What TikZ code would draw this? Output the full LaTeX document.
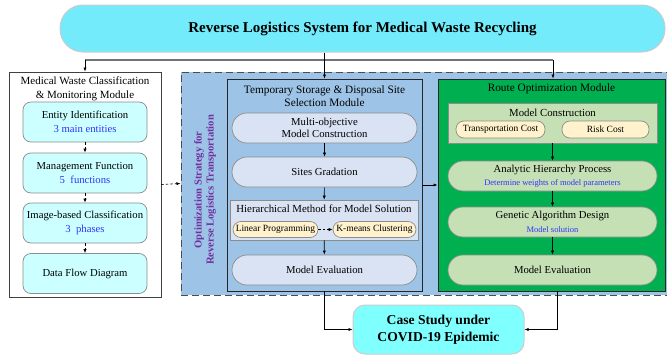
\documentclass[tikz,border=0pt]{standalone}
\usepackage{fontspec}
\setmainfont{Liberation Serif}
\usetikzlibrary{arrows.meta}
\definecolor{titlecyan}{HTML}{73EBFB}
\definecolor{lcyan}{HTML}{CCFFFF}
\definecolor{casecyan}{HTML}{80FFFF}
\definecolor{bigblue}{HTML}{9DC3E6}
\definecolor{lav}{HTML}{DAE3F3}
\definecolor{grn}{HTML}{00B050}
\definecolor{lgrn}{HTML}{C5E0B4}
\definecolor{ylw}{HTML}{FFF2CC}
\definecolor{purp}{HTML}{7030A0}
\definecolor{btext}{HTML}{3333FF}
\definecolor{bord}{HTML}{8C8C8C}
\newcommand\mysubtext[1]{{\fontsize{8.5}{10}\selectfont\color{btext}#1}}
\begin{document}
\begin{tikzpicture}[x=1pt,y=-1pt,
  txt/.style={font=\fontsize{11.3}{13.5}\selectfont, align=center, inner sep=0pt},
  box/.style={rectangle, draw=bord, line width=0.7pt, inner sep=0pt, align=center, font=\fontsize{10.7}{12.5}\selectfont},
  cbox/.style={box, fill=lcyan, rounded corners=8pt, minimum width=124pt, minimum height=40pt},
  lpill/.style={box, fill=lav, rounded corners=15pt, minimum width=185pt, minimum height=30pt},
  gpill/.style={box, fill=lgrn, rounded corners=15pt, minimum width=209pt, minimum height=30pt},
  ypill/.style={box, fill=ylw, rounded corners=8pt, minimum height=16pt, font=\fontsize{9.5}{11}\selectfont},
  module/.style={rectangle, draw=black!85, line width=0.9pt, inner sep=0pt},
  arr/.style={-{Latex[length=4pt,width=3.2pt]}, line width=0.6pt},
  darr/.style={arr, dashed, dash pattern=on 2.5pt off 2pt},
]
\useasboundingbox (0,0) rectangle (667,356);

% title
\node[box, fill=titlecyan, draw=black!20, line width=1pt, rounded corners=23pt, minimum width=605pt, minimum height=47pt,
  font=\fontsize{15}{18}\selectfont\bfseries] (title) at (362.5,28.5) {Reverse Logistics System for Medical Waste Recycling};

% big dashed region
\node[rectangle, fill=bigblue, draw=black!70, line width=1pt, dash pattern=on 7pt off 4pt, minimum width=492pt, minimum height=223pt, inner sep=0pt] (big) at (427,183.5) {};
\node[rotate=90, align=center, text=purp, font=\fontsize{10.6}{12}\selectfont\bfseries, inner sep=0pt] (opt) at (205,190)
  {Optimization Strategy for\\Reverse Logistics Transportation};

% left module
\node[module, fill=white, draw=black!75, line width=0.8pt, minimum width=152pt, minimum height=225pt] (left) at (85,184.5) {};
\node[txt, font=\fontsize{11}{13.5}\selectfont] (lefttitle) at (85,89) {Medical Waste Classification\\\& Monitoring Module};
\node[cbox] (ent) at (85,122) {Entity Identification\\[1pt]{\color{btext}3 main entities}};
\node[cbox] (man) at (85,173) {Management Function\\[1pt]{\color{btext}5\ \ functions}};
\node[cbox] (img) at (85,223) {Image-based Classification\\[1pt]{\color{btext}3\ \ phases}};
\node[cbox] (dfd) at (85,273.5) {Data Flow Diagram};
\draw[darr] (ent) -- (man);
\draw[darr] (man) -- (img);
\draw[darr] (img) -- (dfd);

% temp module
\node[module, fill=bigblue, minimum width=195pt, minimum height=212pt] (temp) at (324.5,185) {};
\node[txt] (temptitle) at (324.5,96) {Temporary Storage \& Disposal Site\\Selection Module};
\node[lpill] (multi) at (324.5,128) {Multi-objective\\Model Construction};
\node[lpill] (sites) at (324.5,172) {Sites Gradation};
\node[box, fill=lav, minimum width=188pt, minimum height=40pt] (hier) at (324,220) {};
\node[txt, font=\fontsize{10.8}{12.5}\selectfont] (hiertitle) at (324,209) {Hierarchical Method for Model Solution};
\node[ypill, minimum width=85pt] (lp) at (275.5,229.5) {Linear Programming};
\node[ypill, minimum width=83pt] (km) at (374.5,229.5) {K-means Clustering};
\node[lpill] (teval) at (324.5,270) {Model Evaluation};
\draw[arr] (multi) -- (sites);
\draw[arr] (sites) -- (hier);
\draw[darr] (lp) -- (km);
\draw[arr] (hier) -- (teval);

% route module
\node[module, fill=grn, minimum width=227pt, minimum height=212pt] (route) at (551.5,185) {};
\node[txt] (routetitle) at (551.5,89) {Route Optimization Module};
\node[box, fill=lgrn, minimum width=209pt, minimum height=40pt] (mc) at (552.5,123) {};
\node[txt, font=\fontsize{10.8}{12.5}\selectfont] (mctitle) at (552.5,113) {Model Construction};
\node[ypill, minimum width=89pt, minimum height=17pt] (tc) at (500.5,129.5) {Transportation Cost};
\node[ypill, minimum width=87pt, minimum height=17pt] (rc) at (605.5,129.5) {Risk Cost};
\node[gpill] (ahp) at (552.5,176) {Analytic Hierarchy Process\\[1pt]\mysubtext{Determine weights of model parameters}};
\node[gpill] (ga) at (552.5,222) {Genetic Algorithm Design\\[1pt]\mysubtext{Model solution}};
\node[gpill] (reval) at (552.5,270) {Model Evaluation};
\draw[arr] (mc) -- (ahp);
\draw[arr] (ahp) -- (ga);
\draw[arr] (ga) -- (reval);

% case study
\node[box, fill=casecyan, draw=black!20, line width=1pt, rounded corners=12pt, minimum width=171pt, minimum height=49pt,
  font=\fontsize{13.6}{16.5}\selectfont\bfseries] (case) at (438.5,329.5) {Case Study under\\COVID-19 Epidemic};

% top bus
\coordinate (busL) at (85,60);
\coordinate (busM) at (324.5,60);
\coordinate (busR) at (553,60);
\draw[line width=1.6pt, black!55] (busL) -- (busR);
\draw[line width=0.6pt] (title.south -| busM) -- (busM);
\draw[arr] (busL) -- (left.north);
\draw[arr] (busM) -- (temp.north);
\draw[arr] (busR) -- (busR |- route.north);

% cross connectors
\draw[darr] (left.east) -- (big.west);
\draw[arr, line width=1pt] (temp.east) -- (route.west);
\coordinate (rb) at (557,291);
\draw[arr] (temp.south) |- (case.west);
\draw[arr] (rb) |- (case.east);
\end{tikzpicture}
\end{document}
